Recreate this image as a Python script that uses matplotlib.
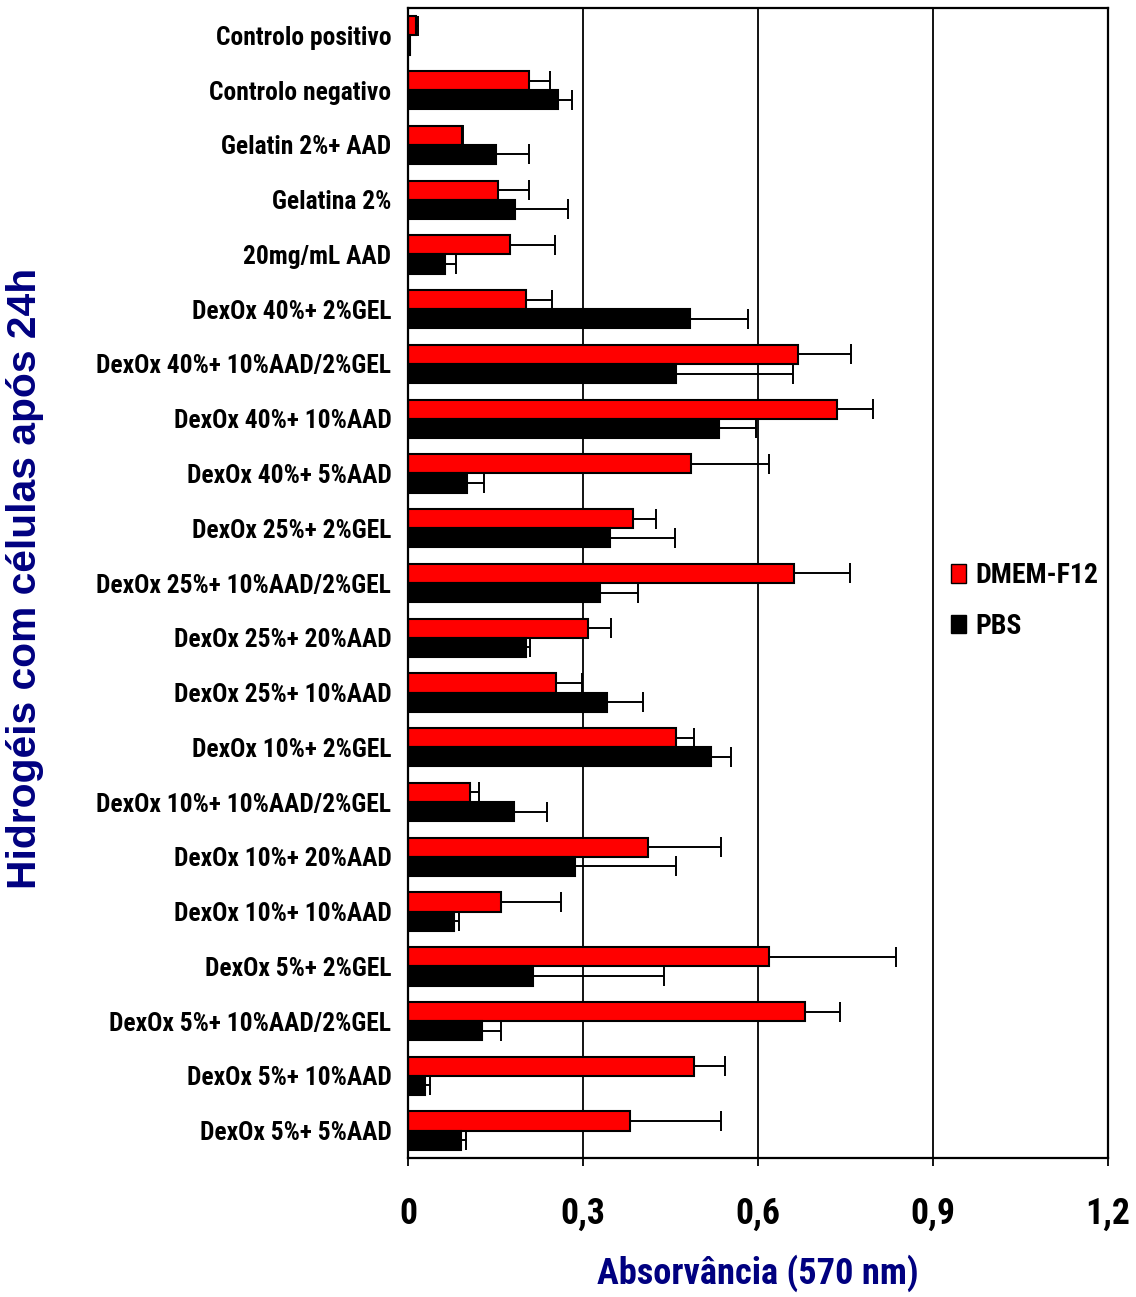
import matplotlib
matplotlib.use("Agg")
import matplotlib.pyplot as plt
import numpy as np
from matplotlib.patches import Patch
from matplotlib import font_manager as fm

categories = [
    "Controlo positivo", "Controlo negativo", "Gelatin 2%+ AAD", "Gelatina 2%",
    "20mg/mL AAD", "DexOx 40%+ 2%GEL", "DexOx 40%+ 10%AAD/2%GEL",
    "DexOx 40%+ 10%AAD", "DexOx 40%+ 5%AAD", "DexOx 25%+ 2%GEL",
    "DexOx 25%+ 10%AAD/2%GEL", "DexOx 25%+ 20%AAD", "DexOx 25%+ 10%AAD",
    "DexOx 10%+ 2%GEL", "DexOx 10%+ 10%AAD/2%GEL", "DexOx 10%+ 20%AAD",
    "DexOx 10%+ 10%AAD", "DexOx 5%+ 2%GEL", "DexOx 5%+ 10%AAD/2%GEL",
    "DexOx 5%+ 10%AAD", "DexOx 5%+ 5%AAD",
]
dmem = [0.013, 0.207, 0.093, 0.155, 0.175, 0.202, 0.668, 0.735, 0.485, 0.385,
        0.661, 0.309, 0.254, 0.460, 0.107, 0.412, 0.159, 0.619, 0.681, 0.490, 0.380]
dmem_err = [0.004, 0.037, 0.002, 0.052, 0.077, 0.044, 0.092, 0.062, 0.134, 0.040,
            0.097, 0.039, 0.045, 0.030, 0.014, 0.124, 0.104, 0.218, 0.060, 0.054, 0.157]
pbs = [0.003, 0.257, 0.151, 0.183, 0.064, 0.483, 0.460, 0.533, 0.101, 0.346,
       0.329, 0.203, 0.341, 0.520, 0.182, 0.286, 0.078, 0.215, 0.126, 0.029, 0.091]
pbs_err = [0.0, 0.024, 0.056, 0.091, 0.019, 0.099, 0.200, 0.064, 0.029, 0.111,
           0.066, 0.006, 0.062, 0.034, 0.056, 0.173, 0.009, 0.223, 0.034, 0.009, 0.009]
series_names = ["DMEM-F12", "PBS"]
xticks = [0, 0.3, 0.6, 0.9, 1.2]
xtick_labels = ["0", "0,3", "0,6", "0,9", "1,2"]
xlabel = "Absorvância (570 nm)"
ylabel = "Hidrogéis com células após 24h"

NAVY = "#000080"

# pick a narrow/condensed bold font if one is installed
available = {(f.name, f.stretch) for f in fm.fontManager.ttflist}
names = {f.name for f in fm.fontManager.ttflist}
narrow_family, narrow_stretch = "Liberation Sans", "normal"
for cand in ["Liberation Sans Narrow", "Arial Narrow", "Roboto Condensed",
             "Open Sans Condensed", "Noto Sans Condensed", "DejaVu Sans Condensed"]:
    if cand in names:
        narrow_family, narrow_stretch = cand, "normal"
        break
else:
    for fam in ["Noto Sans", "Open Sans", "Roboto", "DejaVu Sans"]:
        st = [s for (n_, s) in available if n_ == fam and "condensed" in str(s)]
        if st:
            narrow_family, narrow_stretch = fam, st[0]
            break

fig = plt.figure(figsize=(11.36, 12.97), dpi=100)
renderer = fig.canvas.get_renderer()


def fit_size(text, target_px, family, stretch="normal", weight="bold", base=20.0):
    t = fig.text(0, 0, text, fontsize=base, family=family, fontweight=weight,
                 fontstretch=stretch)
    w = t.get_window_extent(renderer).width
    t.remove()
    return base * target_px / w


NF = [narrow_family, "DejaVu Sans"]
cat_size = fit_size("DexOx 40%+ 10%AAD/2%GEL", 295, NF, narrow_stretch)
tick_size = fit_size("0,3", 38, NF, narrow_stretch) * 1.18
xlab_size = fit_size(xlabel, 321, NF, narrow_stretch)
leg_size = fit_size("DMEM-F12", 118, NF, narrow_stretch) * 1.04
ylab_size = fit_size(ylabel, 620, ["Liberation Sans", "DejaVu Sans"], "normal")

ax = fig.add_axes([408/1136, 1-1158/1297, 700/1136, 1150/1297])

n = len(categories)
y = np.arange(n)
h = 0.35
ax.barh(y - h/2, dmem, height=h, color="#FF0000", edgecolor="black", linewidth=1.5, zorder=2)
ax.barh(y + h/2, pbs, height=h, color="black", edgecolor="black", linewidth=1.5, zorder=2)
zeros = np.zeros(n)
ax.errorbar(dmem, y - h/2, xerr=[zeros, dmem_err], fmt="none", ecolor="black",
            elinewidth=1.4, capsize=7, capthick=1.4, zorder=3)
ax.errorbar(pbs, y + h/2, xerr=[zeros, pbs_err], fmt="none", ecolor="black",
            elinewidth=1.4, capsize=7, capthick=1.4, zorder=3)

ax.set_xlim(0, 1.2)
ax.set_ylim(n - 0.5, -0.5)
ax.set_xticks(xticks)
ax.set_xticklabels(xtick_labels, family=NF, fontstretch=narrow_stretch,
                   fontweight="bold", fontsize=tick_size)
ax.set_yticks(y)
ax.set_yticklabels(categories, family=NF, fontstretch=narrow_stretch,
                   fontweight="bold", fontsize=cat_size)
ax.tick_params(axis="y", length=0, pad=12)
ax.tick_params(axis="x", direction="out", length=6, width=1.3, pad=21)
ax.xaxis.grid(True, color="black", linewidth=1.3)
ax.set_axisbelow(True)
for s in ax.spines.values():
    s.set_linewidth(1.6)

ax.set_xlabel(xlabel, family=NF, fontstretch=narrow_stretch, fontweight="bold",
              fontsize=xlab_size, color=NAVY)
ax.xaxis.set_label_coords(0.5, -(1254 - 1158) / 1150)
fig.text(25/1136, 1-578/1297, ylabel, rotation=90, ha="center", va="center",
         family=["Liberation Sans", "DejaVu Sans"], fontweight="bold",
         fontsize=ylab_size, color=NAVY)

handles = [Patch(facecolor="#FF0000", edgecolor="black", linewidth=1.0),
           Patch(facecolor="black", edgecolor="black", linewidth=1.0)]
fsz_px = leg_size * 100 / 72
fig.legend(handles, series_names, loc="center left",
           bbox_to_anchor=(951/1136, 1-601/1297), frameon=False,
           prop={"family": NF, "stretch": narrow_stretch, "weight": "bold", "size": leg_size},
           handlelength=15/fsz_px, handleheight=18/fsz_px, handletextpad=9/fsz_px,
           labelspacing=0.85, borderpad=0, borderaxespad=0)

fig.savefig("out.png", dpi=100)
